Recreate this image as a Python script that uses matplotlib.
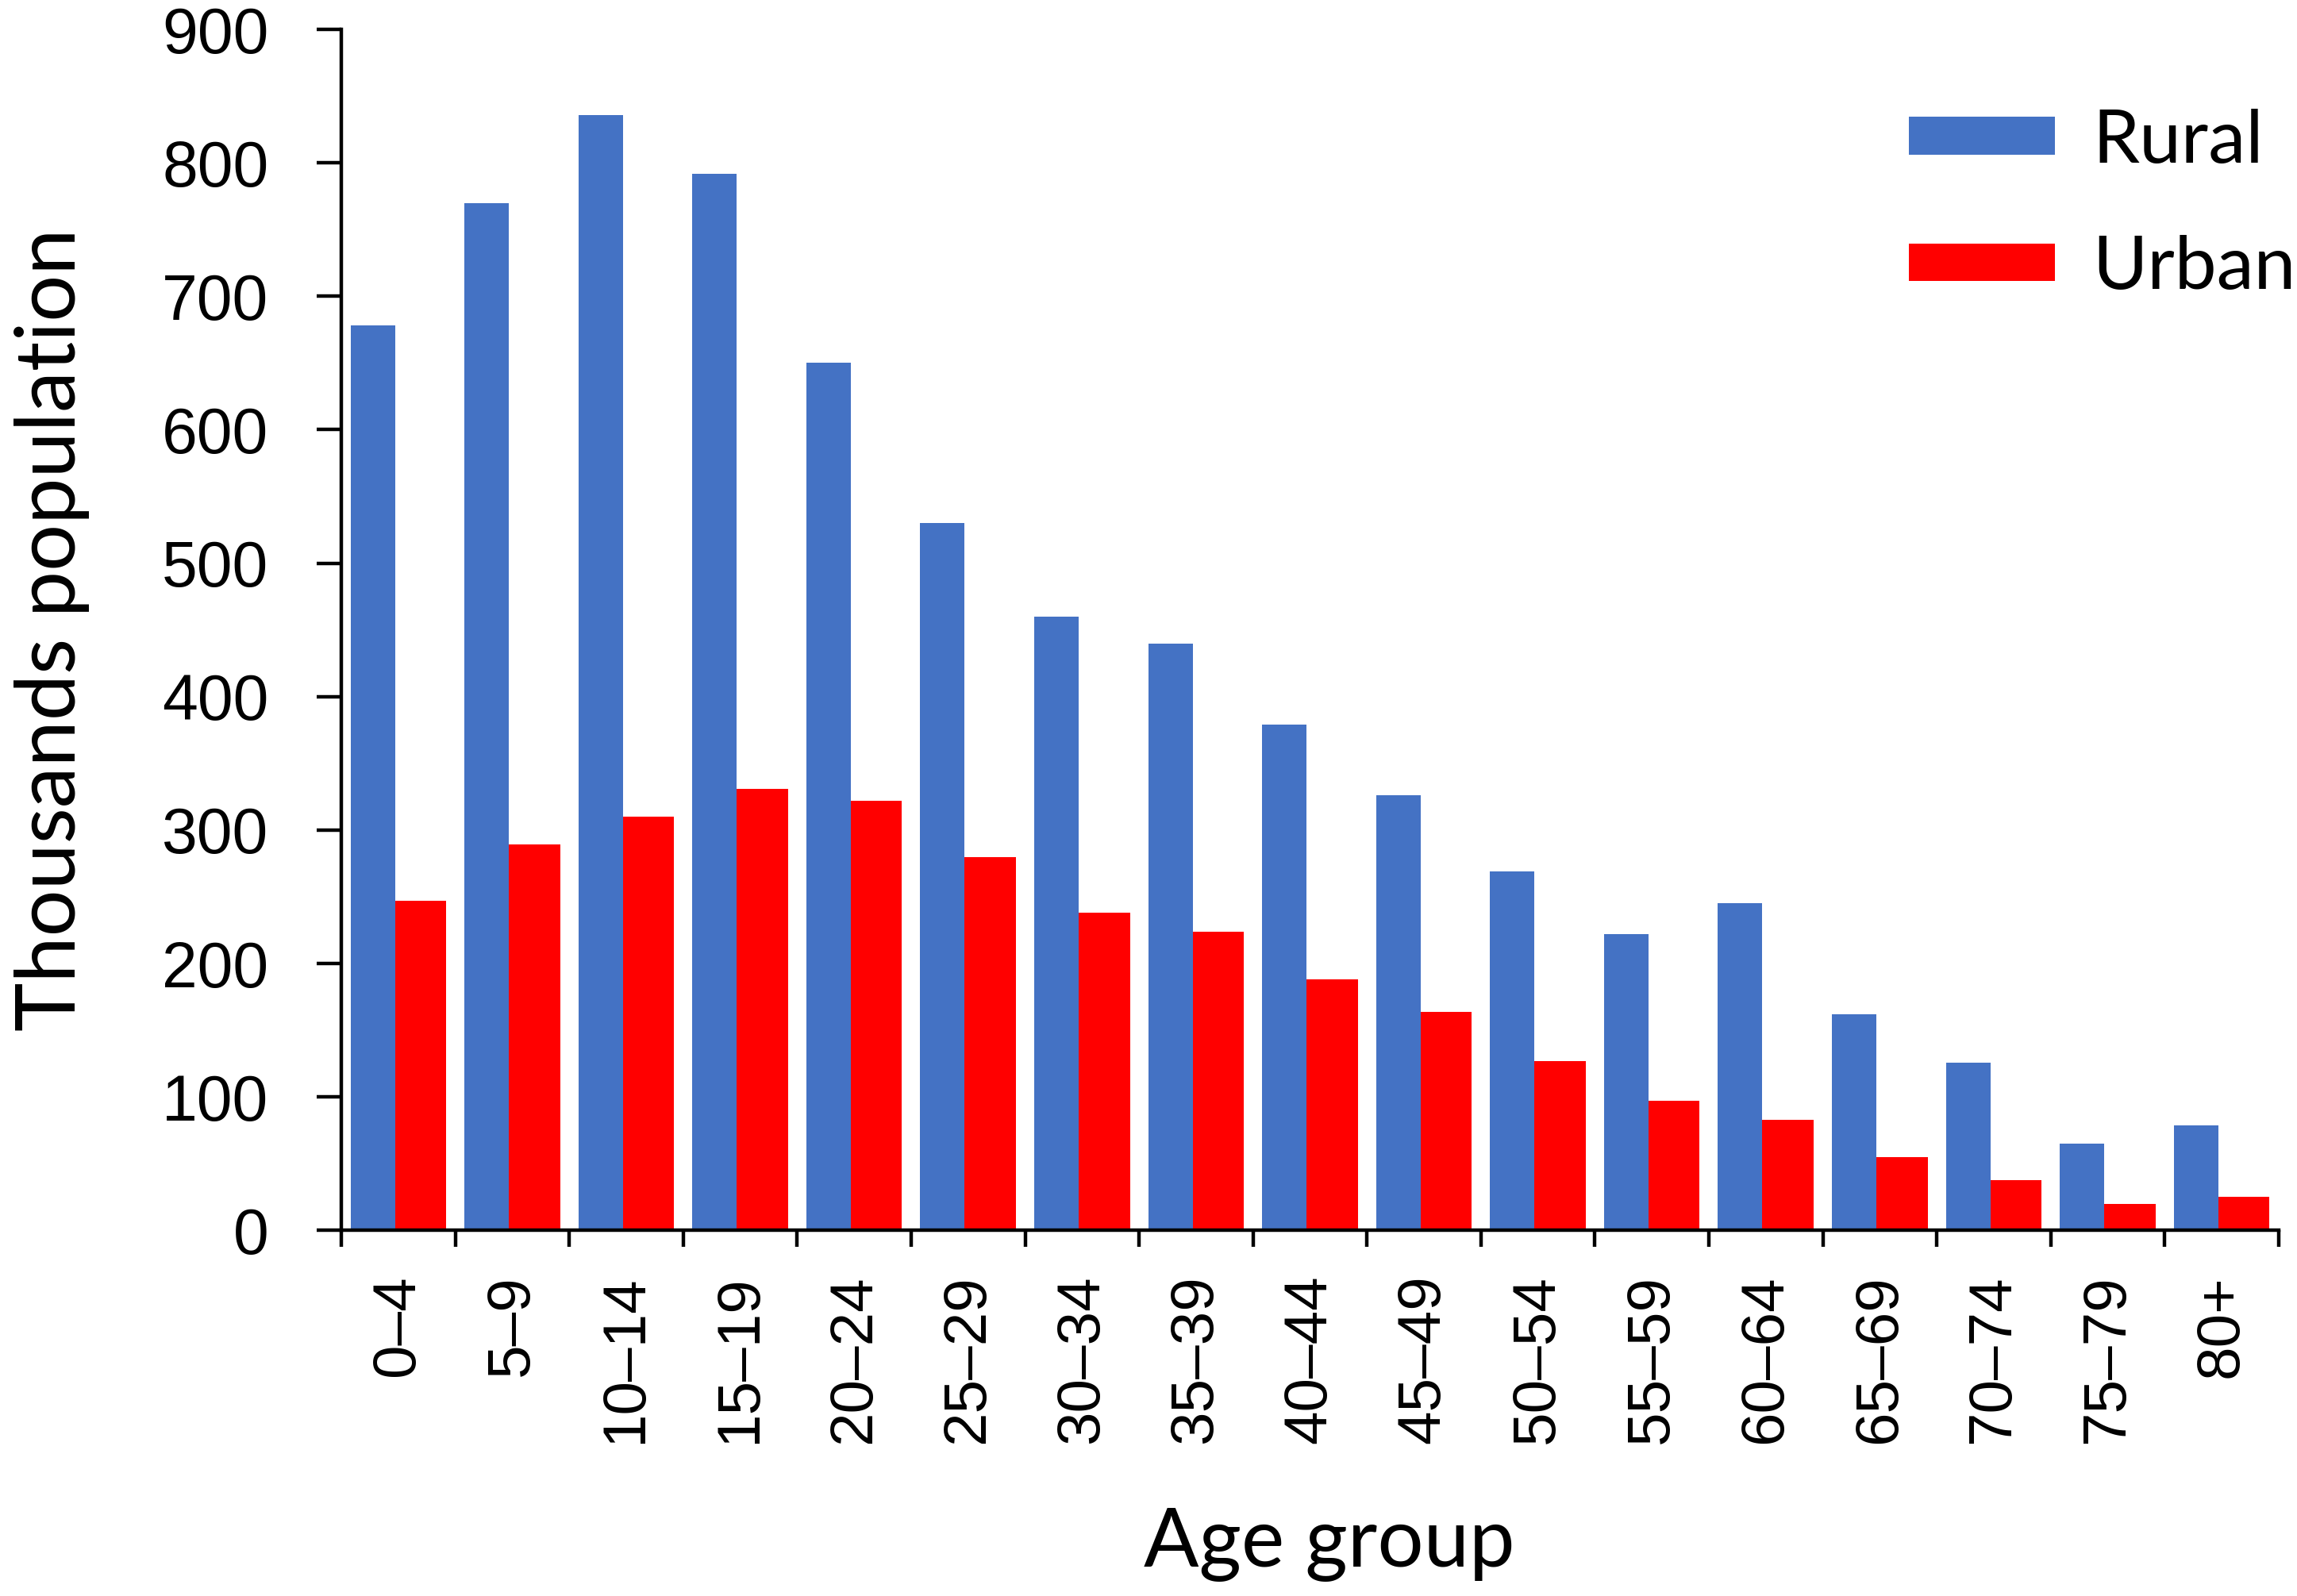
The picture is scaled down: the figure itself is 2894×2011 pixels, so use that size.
import matplotlib
matplotlib.use("Agg")
import matplotlib.pyplot as plt
import numpy as np

# age groups and population (thousands)
age_groups = ["0\u20134", "5\u20139", "10\u201314", "15\u201319", "20\u201324", "25\u201329",
              "30\u201334", "35\u201339", "40\u201344", "45\u201349", "50\u201354", "55\u201359",
              "60\u201364", "65\u201369", "70\u201374", "75\u201379", "80+"]
rural = [678, 770, 836, 792, 650, 530, 460, 440, 379, 326, 269, 222, 245, 162, 126, 65, 79]
urban = [247, 289, 310, 331, 322, 280, 238, 224, 188, 164, 127, 97, 83, 55, 38, 20, 25]
y_ticks = [0, 100, 200, 300, 400, 500, 600, 700, 800, 900]

rural_color = "#4472C4"
urban_color = "#FF0000"

fig = plt.figure(figsize=(28.94, 20.11), dpi=100)
ax = fig.add_axes([0.1486, 0.229, 0.8434, 0.7526])

x = np.arange(len(age_groups))
ax.bar(x - 0.42, rural, width=0.39, align="edge", color=rural_color, label="Rural")
ax.bar(x - 0.03, urban, width=0.45, align="edge", color=urban_color, label="Urban")

ax.set_xlim(-0.5, len(age_groups) - 0.5)
ax.set_ylim(0, 900)

for s in ["top", "right"]:
    ax.spines[s].set_visible(False)
for s in ["left", "bottom"]:
    ax.spines[s].set_linewidth(3.2)

tick_font = {"family": "Liberation Sans"}

ax.set_yticks(y_ticks)
ax.set_yticklabels([str(v) for v in y_ticks], fontsize=58, **tick_font)
ax.tick_params(axis="y", length=22, width=3.2, pad=44, direction="out")

# labels in the middle, tick marks at group boundaries
ax.set_xticks(x)
ax.set_xticklabels(age_groups, rotation=90, fontsize=55, va="top", **tick_font)
ax.tick_params(axis="x", which="major", length=0, pad=40)
ax.set_xticks(np.arange(-0.5, len(age_groups)), minor=True)
ax.tick_params(axis="x", which="minor", length=15, width=3.2, direction="out")

label_font = "Lato"
ax.set_ylabel("Thousands population", fontsize=75, family=label_font)
ax.yaxis.set_label_coords(-0.13, 0.5)
ax.set_xlabel("Age group", fontsize=74, family=label_font)
ax.xaxis.set_label_coords(0.51, -0.23)

leg = ax.legend(loc="upper left", bbox_to_anchor=(0.831, 0.932), bbox_transform=fig.transFigure,
                frameon=False, prop={"family": label_font, "size": 68},
                handlelength=1.95, handleheight=0.4, handletextpad=0.5,
                labelspacing=0.8, borderpad=0, borderaxespad=0)

fig.savefig("out.png", dpi=100, facecolor="white")
